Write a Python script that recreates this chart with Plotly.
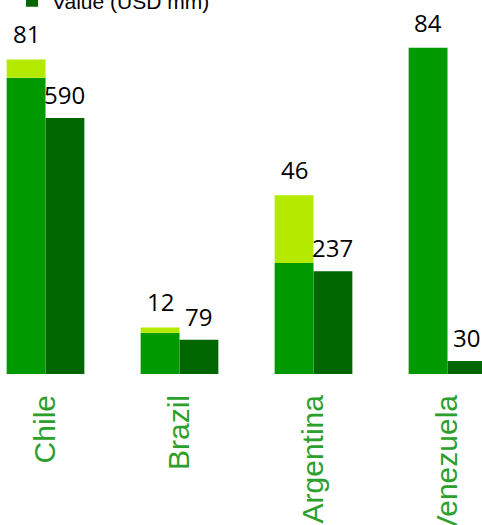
import plotly.graph_objects as go

categories = ["Chile", "Brazil", "Argentina", "Venezuela"]
stack_totals = [81, 12, 46, 84]
stack_base = [76.3, 10.6, 28.6, 84]
value_usd = [590, 79, 237, 30]
legend_name = "Value (USD mm)"

stack_top = [t - b for t, b in zip(stack_totals, stack_base)]

bar_w = 0.29
idx = list(range(len(categories)))

fig = go.Figure()
fig.add_trace(go.Bar(
    x=categories, y=stack_base, yaxis="y2", width=bar_w, offset=-bar_w,
    marker=dict(color="#009900", line=dict(width=0)), name="Base", showlegend=False,
))
fig.add_trace(go.Bar(
    x=categories, y=stack_top, base=stack_base, yaxis="y2", width=bar_w, offset=-bar_w,
    marker=dict(color="#b3ea00", line=dict(width=0)), name="Top", showlegend=False,
))
fig.add_trace(go.Bar(
    x=categories, y=value_usd, yaxis="y", width=bar_w, offset=0,
    marker=dict(color="#006600", line=dict(width=0)), name=legend_name, showlegend=True,
))

annotations = []
for i, t in zip(idx, stack_totals):
    annotations.append(dict(
        x=i - bar_w / 2, y=t, xref="x", yref="y2", text=str(t), showarrow=False,
        yanchor="bottom", yshift=7, font=dict(family="Open Sans", size=24, color="#000000"),
    ))
for i, v in zip(idx, value_usd):
    annotations.append(dict(
        x=i + bar_w / 2, y=v, xref="x", yref="y", text=str(v), showarrow=False,
        yanchor="bottom", yshift=5, font=dict(family="Open Sans", size=24, color="#000000"),
    ))

fig.update_layout(
    width=482, height=525,
    margin=dict(l=0, r=0, t=0, b=151, autoexpand=False),
    paper_bgcolor="white", plot_bgcolor="white",
    barmode="overlay",
    showlegend=True,
    legend=dict(x=0.025, y=0.942, xanchor="left", yanchor="bottom",
                bgcolor="rgba(0,0,0,0)",
                font=dict(family="Liberation Sans", size=21, color="#000000")),
    xaxis=dict(type="category", range=[-0.3396, 3.2575], tickangle=-90,
               tickfont=dict(family="Liberation Sans", size=30, color="#2ca02c"),
               showgrid=False, zeroline=False, showline=False, ticks="",
               ticklabelstandoff=14),
    yaxis=dict(range=[0, 862], visible=False, showgrid=False, zeroline=False),
    yaxis2=dict(range=[0, 96.3], overlaying="y", visible=False, showgrid=False, zeroline=False),
    annotations=annotations,
)

fig.write_html("out.html")
